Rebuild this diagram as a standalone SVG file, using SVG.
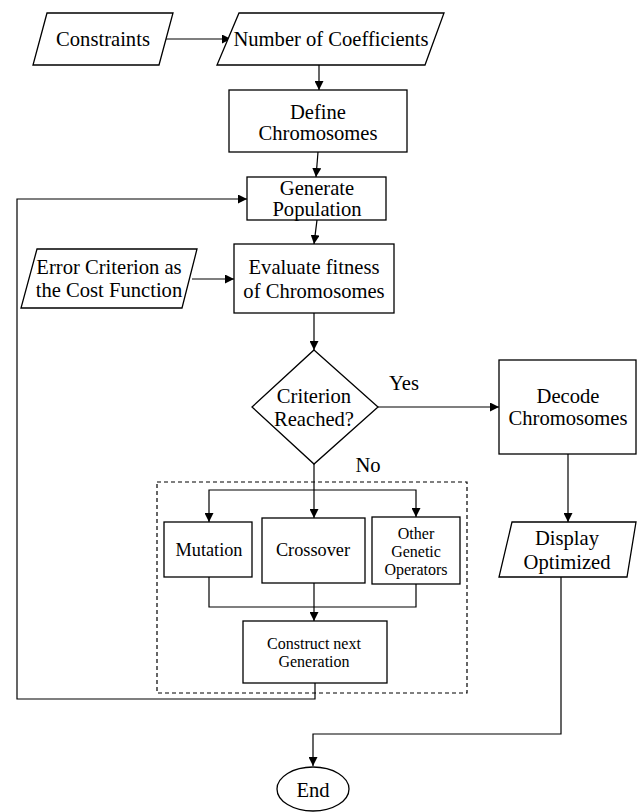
<svg xmlns="http://www.w3.org/2000/svg" width="638" height="812" viewBox="0 0 638 812">
<defs>
<marker id="ah" viewBox="0 0 10 10" refX="10" refY="5" markerWidth="9" markerHeight="9" markerUnits="userSpaceOnUse" orient="auto">
<path d="M0,0 L10,5 L0,10 z" fill="#000"/>
</marker>
<style>
.s{fill:#fff;stroke:#000;stroke-width:1.3}
.c{fill:none;stroke:#000;stroke-width:1.2}
.a{marker-end:url(#ah)}
text{font-family:'Liberation Serif','Times New Roman',Times,serif;font-size:20.6px;fill:#000;text-anchor:middle;dominant-baseline:central}
.m{font-size:18.3px}
.sm{font-size:16px}
</style>
</defs>
<rect width="638" height="812" fill="#fff"/>
<g id="connectors">
<path class="c a" d="M165,39 H231"/>
<path class="c a" d="M319,65 V90"/>
<path class="c a" d="M318,152 L316,177"/>
<path class="c a" d="M317,220 L314,244"/>
<path class="c a" d="M315,683 V699 H17 V199 H247"/>
<path class="c a" d="M192,279 H234"/>
<path class="c a" d="M314,313 V350"/>
<path class="c a" d="M378,407 H499"/>
<path class="c a" d="M568,454 V522"/>
<path class="c a" d="M561,577 V734 H313 V766"/>
<path class="c a" d="M314,464 V518"/>
<path class="c a" d="M314,490 H209 V522"/>
<path class="c a" d="M314,490 H416 V517"/>
<path class="c" d="M209,577 V607 H416 V584"/>
<path class="c a" d="M314,583 V621"/>
</g>
<g id="group-box">
<rect x="157" y="482" width="310" height="211" fill="none" stroke="#000" stroke-width="1.2" stroke-dasharray="4,3"/>
</g>
<g id="constraints">
<polygon class="s" points="47,13 173,13 159,65 33,65"/>
<text font-family="Liberation Serif" x="103" y="39">Constraints</text>
</g>
<g id="coefficients">
<polygon class="s" points="239,13 444,13 425,65 217,65"/>
<text font-family="Liberation Serif" x="331" y="39">Number of Coefficients</text>
</g>
<g id="define">
<rect class="s" x="229" y="90" width="178" height="62"/>
<text font-family="Liberation Serif" x="318" y="112">Define</text>
<text font-family="Liberation Serif" x="318" y="133">Chromosomes</text>
</g>
<g id="generate">
<rect class="s" x="247" y="177" width="139" height="43"/>
<text font-family="Liberation Serif" x="317" y="188">Generate</text>
<text font-family="Liberation Serif" x="317" y="209">Population</text>
</g>
<g id="error">
<polygon class="s" points="37,249 197,249 182,308 21,308"/>
<text font-family="Liberation Serif" x="109" y="267">Error Criterion as</text>
<text font-family="Liberation Serif" x="109" y="290">the Cost Function</text>
</g>
<g id="evaluate">
<rect class="s" x="234" y="244" width="160" height="69"/>
<text font-family="Liberation Serif" x="314" y="267">Evaluate fitness</text>
<text font-family="Liberation Serif" x="314" y="291">of Chromosomes</text>
</g>
<g id="criterion">
<polygon class="s" points="314,350 378,407 314,464 252,407"/>
<text font-family="Liberation Serif" x="314" y="396">Criterion</text>
<text font-family="Liberation Serif" x="314" y="419">Reached?</text>
</g>
<g id="labels">
<text font-family="Liberation Serif" x="404" y="383">Yes</text>
<text font-family="Liberation Serif" x="368" y="465">No</text>
</g>
<g id="decode">
<rect class="s" x="499" y="360" width="137" height="94"/>
<text font-family="Liberation Serif" x="568" y="396">Decode</text>
<text font-family="Liberation Serif" x="568" y="418">Chromosomes</text>
</g>
<g id="display">
<polygon class="s" points="512,522 636,522 627,577 499,577"/>
<text font-family="Liberation Serif" x="567" y="538">Display</text>
<text font-family="Liberation Serif" x="567" y="562">Optimized</text>
</g>
<g id="mutation">
<rect class="s" x="164" y="522" width="88" height="55"/>
<text class="m" font-family="Liberation Serif" x="209" y="550">Mutation</text>
</g>
<g id="crossover">
<rect class="s" x="262" y="518" width="103" height="65"/>
<text class="m" font-family="Liberation Serif" x="313" y="550">Crossover</text>
</g>
<g id="other">
<rect class="s" x="372" y="517" width="88" height="67"/>
<text class="sm" font-family="Liberation Serif" x="416" y="533">Other</text>
<text class="sm" font-family="Liberation Serif" x="416" y="551">Genetic</text>
<text class="sm" font-family="Liberation Serif" x="416" y="569">Operators</text>
</g>
<g id="construct">
<rect class="s" x="243" y="621" width="144" height="62"/>
<text class="sm" font-family="Liberation Serif" x="314" y="643">Construct next</text>
<text class="sm" font-family="Liberation Serif" x="314" y="661">Generation</text>
</g>
<g id="end">
<ellipse class="s" cx="313" cy="789" rx="36" ry="22"/>
<text font-family="Liberation Serif" x="313" y="790">End</text>
</g>
</svg>
